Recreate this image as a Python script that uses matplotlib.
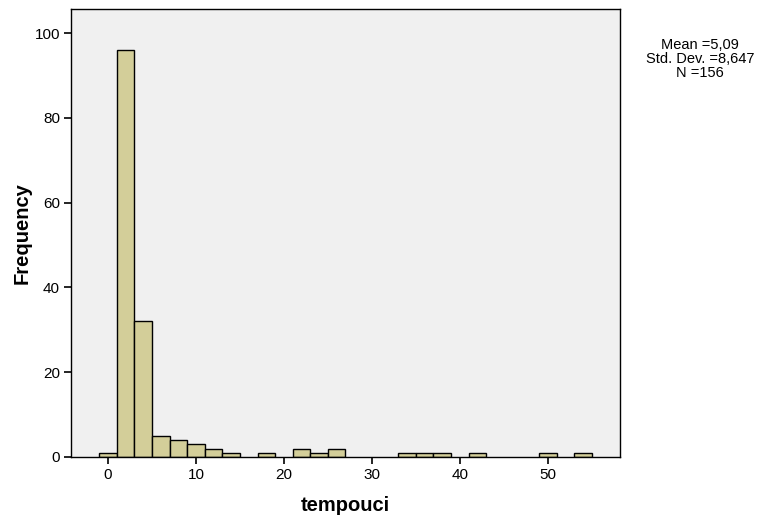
import matplotlib
matplotlib.use("Agg")
import matplotlib.pyplot as plt
import numpy as np

bin_left = [-1, 1, 3, 5, 7, 9, 11, 13, 17, 21, 23, 25, 33, 35, 37, 41, 49, 53]
counts = [1, 96, 32, 5, 4, 3, 2, 1, 1, 2, 1, 2, 1, 1, 1, 1, 1, 1]
bin_width = 2
xticks = [0, 10, 20, 30, 40, 50]
yticks = [0, 20, 40, 60, 80, 100]
stats_text = "Mean =5,09\nStd. Dev. =8,647\nN =156"

plt.rcParams['font.family'] = ['Liberation Sans', 'DejaVu Sans']
fig = plt.figure(figsize=(7.76, 5.2), dpi=100)
ax = fig.add_axes([71/776, 1-457/520, (620-71)/776, (457-9)/520])
ax.set_facecolor('#F0F0F0')
ax.bar(bin_left, counts, width=bin_width, align='edge', color='#D3CE99',
       edgecolor='black', linewidth=1.0)
ax.set_xlim(-4.2, 58.2)
ax.set_ylim(0, 105.7)
ax.set_xticks(xticks)
ax.set_yticks(yticks)
ax.tick_params(direction='out', length=5, width=1.2, labelsize=11, color='black', pad=3)
for s in ax.spines.values():
    s.set_linewidth(1.0)
ax.set_xlabel('tempouci', fontsize=14.5, fontweight='bold', labelpad=10)
ax.set_ylabel('Frequency', fontsize=14.5, fontweight='bold', labelpad=2)
fig.text(700/776, 1-59/520, stats_text, ha='center', va='center', fontsize=10.5, linespacing=1.0)
fig.savefig('out.png', dpi=100)
